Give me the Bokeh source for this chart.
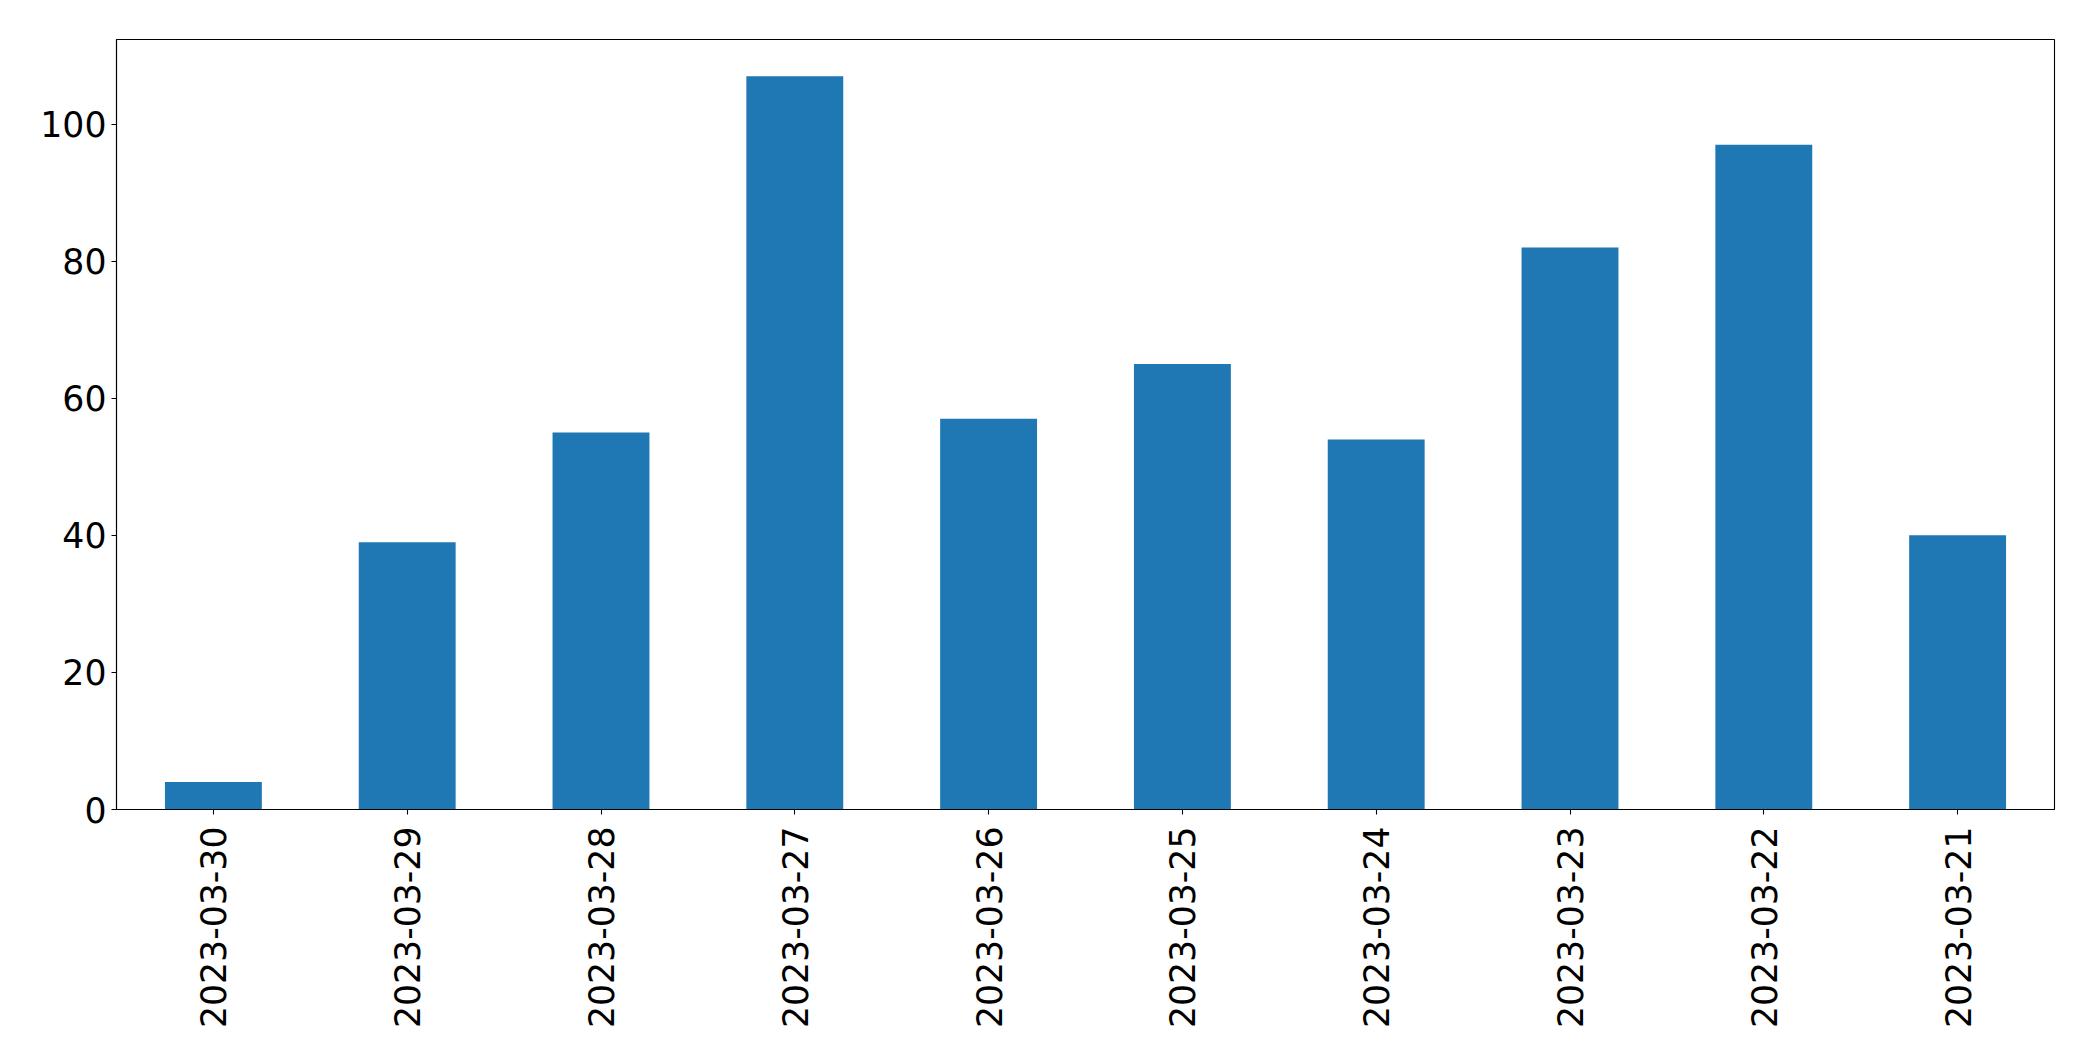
import math
from bokeh.plotting import figure
from bokeh.models import FactorRange, Range1d, FixedTicker
from bokeh.embed import file_html
from bokeh.resources import INLINE

dates = ["2023-03-30", "2023-03-29", "2023-03-28", "2023-03-27", "2023-03-26",
         "2023-03-25", "2023-03-24", "2023-03-23", "2023-03-22", "2023-03-21"]
counts = [4, 39, 55, 107, 57, 65, 54, 82, 97, 40]
y_ticks = [0, 20, 40, 60, 80, 100]

p = figure(x_range=FactorRange(*dates, range_padding=0),
           y_range=Range1d(0, max(counts) * 1.05),
           width=2077, height=1045,
           output_backend="svg", toolbar_location=None,
           min_border_left=116, min_border_right=23,
           min_border_top=39, min_border_bottom=236)

p.vbar(x=dates, top=counts, width=0.5, color="#1f77b4", line_color=None)

p.xgrid.visible = False
p.ygrid.visible = False
p.outline_line_color = "black"
p.outline_line_width = 1.1
p.background_fill_color = "white"
p.border_fill_color = "white"

p.yaxis.ticker = FixedTicker(ticks=y_ticks)
p.yaxis.minor_tick_line_color = None

for ax in (p.xaxis[0], p.yaxis[0]):
    ax.axis_line_color = "black"
    ax.axis_line_width = 1.1
    ax.major_tick_line_color = "black"
    ax.major_tick_line_width = 1.1
    ax.major_tick_in = 0
    ax.major_tick_out = 5
    ax.major_label_standoff = 5
    ax.major_label_text_font = "DejaVu Sans"
    ax.major_label_text_font_size = "34.7px"
    ax.major_label_text_color = "black"

p.xaxis.major_label_orientation = math.pi / 2
p.xaxis.major_label_standoff = 12

open("out.html", "w").write(file_html(p, INLINE))
